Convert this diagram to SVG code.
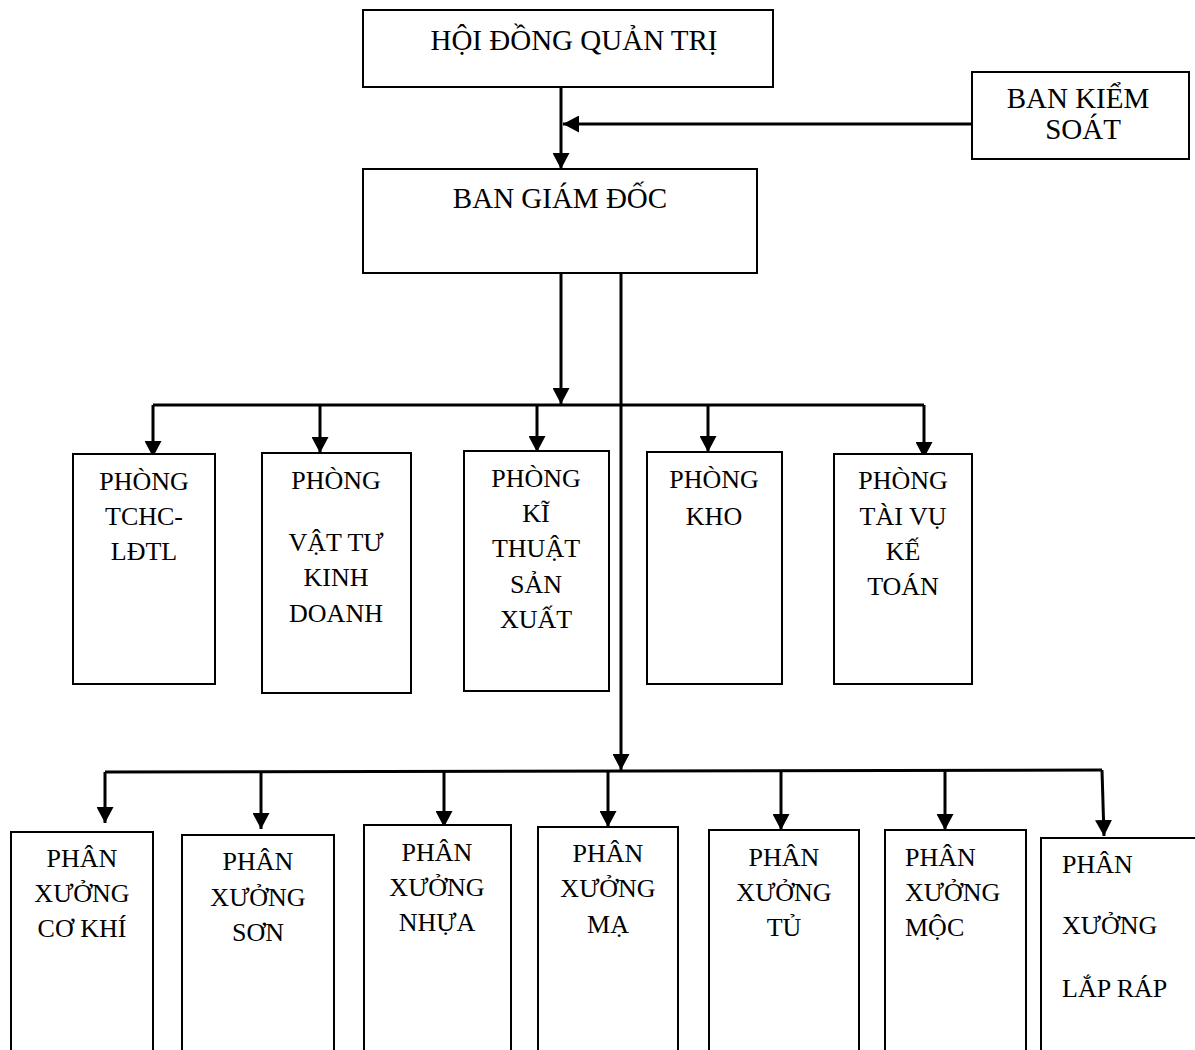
<svg xmlns="http://www.w3.org/2000/svg" width="1195" height="1050" viewBox="0 0 1195 1050">
<style>
.box{fill:#fff;stroke:#000;stroke-width:2}
.t{font-family:"Liberation Serif","Times New Roman",serif;font-size:26px;fill:#000;text-anchor:middle}
.tl{text-anchor:start}
.big{font-size:29px}
.c{fill:none;stroke:#000;stroke-width:3}
</style>
<defs>
<marker id="ah" markerUnits="userSpaceOnUse" markerWidth="17" markerHeight="17" refX="16" refY="8.5" orient="auto" viewBox="0 0 17 17">
<path d="M0,0 L16,8.5 L0,17 z" fill="#000"/>
</marker>
</defs>
<rect width="1195" height="1050" fill="#fff"/>
<g id="connectors">
<path class="c" d="M561,87 V169" marker-end="url(#ah)"/>
<path class="c" d="M972,124 H563" marker-end="url(#ah)"/>
<path class="c" d="M561,273 V404" marker-end="url(#ah)"/>
<path class="c" d="M153,405 H924"/>
<path class="c" d="M153,405 V457" marker-end="url(#ah)"/>
<path class="c" d="M320,405 V453" marker-end="url(#ah)"/>
<path class="c" d="M537,405 V452" marker-end="url(#ah)"/>
<path class="c" d="M708,405 V452" marker-end="url(#ah)"/>
<path class="c" d="M924,405 V458" marker-end="url(#ah)"/>
<path class="c" d="M621,273 V770" marker-end="url(#ah)"/>
<path class="c" d="M105,772 L1102,770"/>
<path class="c" d="M105,772 V823" marker-end="url(#ah)"/>
<path class="c" d="M261,772 V829" marker-end="url(#ah)"/>
<path class="c" d="M444,772 V827" marker-end="url(#ah)"/>
<path class="c" d="M608,771 V827" marker-end="url(#ah)"/>
<path class="c" d="M781,771 V830" marker-end="url(#ah)"/>
<path class="c" d="M945,770 V830" marker-end="url(#ah)"/>
<path class="c" d="M1102,770 L1104,836" marker-end="url(#ah)"/>
</g>
<g id="hdqt">
<rect class="box" x="363" y="10" width="410" height="77"/>
<text class="t big" x="574" y="50" font-size="31">HỘI ĐỒNG QUẢN TRỊ</text>
</g>
<g id="bks">
<rect class="box" x="972" y="72" width="217" height="87"/>
<text class="t big" x="1078" y="108">BAN KIỂM</text>
<text class="t big" x="1083" y="139">SOÁT</text>
</g>
<g id="bgd">
<rect class="box" x="363" y="169" width="394" height="104"/>
<text class="t big" x="560" y="208">BAN GIÁM ĐỐC</text>
</g>
<g id="p-tchc">
<rect class="box" x="73" y="454" width="142" height="230"/>
<text class="t" x="144" y="490">PHÒNG</text>
<text class="t" x="144" y="525">TCHC-</text>
<text class="t" x="144" y="560">LĐTL</text>
</g>
<g id="p-vattu">
<rect class="box" x="262" y="453" width="149" height="240"/>
<text class="t" x="336" y="489">PHÒNG</text>
<text class="t" x="336" y="551">VẬT TƯ</text>
<text class="t" x="336" y="586">KINH</text>
<text class="t" x="336" y="622">DOANH</text>
</g>
<g id="p-kithuat">
<rect class="box" x="464" y="451" width="145" height="240"/>
<text class="t" x="536" y="487">PHÒNG</text>
<text class="t" x="536" y="522">KĨ</text>
<text class="t" x="536" y="557">THUẬT</text>
<text class="t" x="536" y="593">SẢN</text>
<text class="t" x="536" y="628">XUẤT</text>
</g>
<g id="p-kho">
<rect class="box" x="647" y="452" width="135" height="232"/>
<text class="t" x="714" y="488">PHÒNG</text>
<text class="t" x="714" y="525">KHO</text>
</g>
<g id="p-taivu">
<rect class="box" x="834" y="454" width="138" height="230"/>
<text class="t" x="903" y="489">PHÒNG</text>
<text class="t" x="903" y="525">TÀI VỤ</text>
<text class="t" x="903" y="560">KẾ</text>
<text class="t" x="903" y="595">TOÁN</text>
</g>
<g id="x-cokhi">
<rect class="box" x="11" y="832" width="142" height="230"/>
<text class="t" x="82" y="867">PHÂN</text>
<text class="t" x="82" y="902">XƯỞNG</text>
<text class="t" x="82" y="937">CƠ KHÍ</text>
</g>
<g id="x-son">
<rect class="box" x="182" y="835" width="152" height="230"/>
<text class="t" x="258" y="870">PHÂN</text>
<text class="t" x="258" y="906">XƯỞNG</text>
<text class="t" x="258" y="941">SƠN</text>
</g>
<g id="x-nhua">
<rect class="box" x="364" y="825" width="147" height="240"/>
<text class="t" x="437" y="861">PHÂN</text>
<text class="t" x="437" y="896">XƯỞNG</text>
<text class="t" x="437" y="931">NHỰA</text>
</g>
<g id="x-ma">
<rect class="box" x="538" y="827" width="140" height="240"/>
<text class="t" x="608" y="862">PHÂN</text>
<text class="t" x="608" y="897">XƯỞNG</text>
<text class="t" x="608" y="933">MẠ</text>
</g>
<g id="x-tu">
<rect class="box" x="709" y="830" width="150" height="240"/>
<text class="t" x="784" y="866">PHÂN</text>
<text class="t" x="784" y="901">XƯỞNG</text>
<text class="t" x="784" y="936">TỦ</text>
</g>
<g id="x-moc">
<rect class="box" x="885" y="830" width="141" height="240"/>
<text class="t tl" x="905" y="866">PHÂN</text>
<text class="t tl" x="905" y="901">XƯỞNG</text>
<text class="t tl" x="905" y="936">MỘC</text>
</g>
<g id="x-laprap">
<rect class="box" x="1041" y="838" width="170" height="240"/>
<text class="t tl" x="1062" y="873">PHÂN</text>
<text class="t tl" x="1062" y="934">XƯỞNG</text>
<text class="t tl" x="1062" y="997">LẮP RÁP</text>
</g>
</svg>
